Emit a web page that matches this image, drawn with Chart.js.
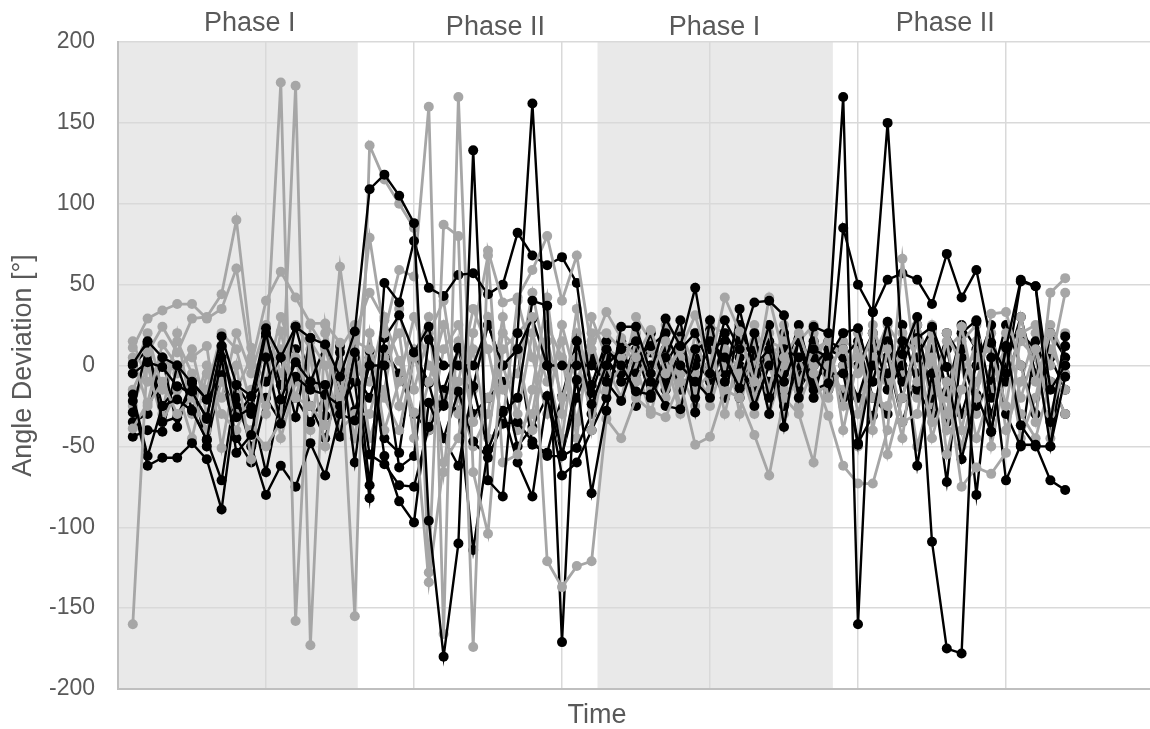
<!DOCTYPE html>
<html>
<head>
<meta charset="utf-8">
<script src="https://cdn.jsdelivr.net/npm/chart.js@4.4.1/dist/chart.umd.min.js"></script>
<style>
  html, body { margin: 0; padding: 0; background: #fff; }
</style>
</head>
<body>
<canvas id="chart" width="1150" height="729"></canvas>
<script>
// Angle deviation per time step (1..64).
// Steps 1-16 Phase I, 17-32 Phase II, 33-48 Phase I, 49-64 Phase II.

const black1 = [
  1, 15, 5, 0, -11, -21, 18, -12, -19, 23, 5, 24, 17, 13, -7, 21,
  109, 118, 105, 88, -96, -180, -110, 133, -71, -81, 20, 162, 0, -56, -9, -79,
  -28, 24, 24, -5, 29, 12, 48, -5, 28, 10, 39, 40, 31, -20, 24, 20,
  166, -160, 33, 150, 7, 30, -109, -175, -178, 27, -41, 11, 53, 49, -35, 18,
];
const black2 = [
  -5, 2, -1, -13, -16, -33, 12, -32, -26, 20, -21, 2, -10, -12, -44, 8,
  -74, 51, 39, 77, 48, 43, 56, 57, 44, 50, 82, 68, 62, 67, 51, -17,
  10, 0, -16, -18, 5, 28, -29, 28, -10, 35, -5, 25, -38, 17, -15, -11,
  85, 50, 33, 53, 57, 53, 38, 69, 42, 59, 14, -5, 52, 49, -15, 0,
];
const black3 = [
  -18, -56, -25, -21, -28, -46, 5, -54, -43, 5, -36, -7, -15, -18, -25, -10,
  -82, 17, 31, 8, 24, -25, 11, -13, -52, -29, -20, 40, 37, -171, 15, -24,
  0, 10, 15, -10, -25, -27, 10, 15, 5, -14, 20, -20, 10, 5, 10, 5,
  20, 23, -10, 27, -20, 17, 24, -1, -58, -18, -41, 12, -37, -50, -50, -7,
];
const black4 = [
  -22, -62, -57, -57, -48, -58, -89, -20, -50, -80, -62, -75, -48, -68, -30, -34,
  0, 0, -63, -56, 16, 0, 0, 0, 25, 0, 10, 29, 0, 0, 0, 0,
  -10, -22, 5, 12, 20, 0, -10, -20, 20, 5, -25, 0, -10, 15, -20, 15,
  10, -49, 0, -5, 15, -62, -5, -72, 10, -80, 5, -71, -49, -49, -71, -77,
];
const black5 = [
  -29, 14, -35, -32, -10, -21, -6, -31, -19, -10, 5, -32, 17, -31, 12, -60,
  9, -56, -84, -97, -23, -45, -16, -47, -57, -36, -35, -47, -56, -56, -51, -30,
  5, -10, -5, 20, -15, 10, 20, 0, -20, 25, 0, 10, -25, 0, 5, -5,
  -5, -48, -31, 15, -10, 5, 23, -16, 20, 28, -20, -10, 20, 10, -50, 12,
];
const black6 = [
  -44, -40, -41, 0, -27, -46, -71, -12, -26, -66, -21, 24, -10, 12, -20, 5,
  -55, -61, -74, -75, -38, -24, -28, -114, -52, -28, -60, -81, -19, -68, -60, -40,
  -20, 15, -25, 0, 10, -15, 0, 10, 15, -20, 10, -30, 20, -15, 0, 10,
  5, 15, -20, -30, 25, -15, -30, 10, -30, 0, 25, -30, -50, 15, -10, -30,
];
const black7 = [
  0, 10, -25, -13, -17, -32, 12, -25, -30, 18, -12, -20, -35, -18, 8, -28,
  5, -45, -54, 8, -11, -45, -62, -13, 25, 0, 10, -49, -54, -19, 15, -12,
  15, -5, 10, -20, 0, 18, -20, 22, -5, 0, -15, 15, -5, 25, -10, 0,
  -20, 0, 20, -15, 0, 25, -20, 20, 5, -25, -10, 25, 0, -30, 20, 5,
];
const black8 = [
  -35, -30, 5, -38, -10, -50, -5, -45, -60, -20, -35, 10, -25, -45, -10, -5,
  -20, 10, -5, -30, -40, -15, 10, -30, -20, -10, -50, -38, -19, -55, -20, 5,
  -5, 5, 0, 8, -10, -5, 5, -10, 0, 15, 5, -10, 0, -5, 15, -15,
  0, -20, 10, 5, -35, -5, 10, -35, 25, 10, -30, 0, 30, -5, 5, -15,
];

const gray1 = [
  11, 29, 34, 38, 38, 29, 35, 60, 0, 40, 58, 42, 26, 26, 14, -155,
  136, 115, 100, 85, -128, 87, 80, -174, 71, 39, 42, 59, 80, 40, 68, 10,
  33, 17, 5, 22, -5, 10, 31, 0, 42, 21, -10, 42, 5, 20, -5, -31,
  -62, -73, -73, -40, 66, -10, 5, -30, 24, -20, 32, 33, 0, -35, 45, 54,
];
const gray2 = [
  -160, 8, 24, 8, 29, 30, 44, 90, 11, -30, 21, -20, -25, -37, 61, -5,
  79, 20, 59, 55, 160, -166, 166, -66, -104, 10, 20, 30, -121, -137, -124, -121,
  -33, -45, -20, -28, -32, -10, -49, -44, -15, -20, -43, -68, -20, -30, -60, 0,
  10, -5, 20, -55, -20, 15, -45, -10, -75, -63, -67, -54, 20, 25, 0, 45,
];
const gray3 = [
  -39, -23, 13, 0, 5, 12, -51, 0, -58, 5, 175, -158, 25, 10, -20, 20,
  45, 28, 3, -29, -134, -60, -45, 20, 68, -60, -55, -15, 42, -30, 35, -40,
  10, 5, 20, -5, 15, -25, 10, 20, -30, 10, 15, -15, 25, -10, 10, 15,
  -25, 20, -40, 10, -35, -30, 20, -55, -15, 15, -40, 20, -20, 10, -30, 0,
];
const gray4 = [
  5, -25, -10, -30, -20, -40, -10, -30, -40, -50, -35, 173, -173, 25, -30, 15,
  10, -20, -40, 5, 30, -66, 15, -35, -20, 0, -30, 20, -10, 15, -35, 15,
  -15, 0, -10, 10, -20, 5, -15, -5, 10, -10, 0, 20, -15, 5, -20, -10,
  20, -30, 5, 25, 10, -50, -15, 15, -40, 5, 10, -25, 30, -10, 20, -15,
];
const gray5 = [
  -25, 0, -35, -15, -45, -5, -30, -40, -15, -25, 10, -20, 15, 0, -40, -30,
  -30, 5, 20, -45, -10, 25, -30, 10, -45, 20, 10, -40, 15, -20, 5, -30,
  0, -20, 15, -15, 5, -30, 20, -15, 0, 25, -20, 5, 15, -25, 0, 20,
  -40, 5, -20, -25, 20, 5, -35, 20, 0, -45, -15, 5, -30, -45, -10, -30,
];
const gray6 = [
  -5, 20, -15, 15, -5, -15, 20, 10, -25, 15, -45, -10, 5, -50, 0, -45,
  20, -40, -10, 30, 0, -20, -10, 35, 10, -35, 40, 5, -30, 25, -10, 20,
  20, 10, -25, 0, 25, 15, -5, 10, -20, -5, 10, -30, 0, 15, 25, -20,
  0, -50, 25, -5, -45, 25, 0, -40, 15, 25, -50, -5, 15, 5, -45, 20,
];
const gray7 = [
  15, -10, 5, -5, 10, -30, 0, -15, 5, -10, 30, 5, -40, 20, -15, 0,
  -10, 30, -25, 10, -40, 10, 25, -15, 30, -15, -5, 45, 0, -45, 20, -10,
  -20, 15, 0, -30, 10, -5, -25, 25, 20, -30, 25, 0, -30, 0, -10, 5,
  15, 10, -10, 20, -5, -20, 25, -20, -50, -10, 20, -40, -10, 20, 10, -5,
];
const gray8 = [
  -15, 5, -30, 20, -30, 0, -20, 20, -5, 25, -5, 25, 10, -25, 10, 25,
  -45, -15, 35, -15, 20, 40, -20, -50, -30, 30, -40, -30, 25, 5, -45, 30,
  5, -10, 30, 15, -15, 20, 0, -25, 5, 0, -30, 15, 10, -15, 20, -5,
  -15, -20, 0, -10, 5, 20, -25, 10, 20, -30, -5, 10, -45, -20, 25, 5,
];

const phaseNames = ['Phase I', 'Phase II', 'Phase I', 'Phase II'];
const yTicks = [-200, -150, -100, -50, 0, 50, 100, 150, 200];

// ── Layout (time units on x, pixels for text) ─────────
const SHADED = [[0, 16.2], [32.4, 48.3]];
const PHASE_LABEL_X = [8.9, 25.5, 40.3, 55.9];
const PHASE_LABEL_Y = [31, 35, 35, 31];

const FONT = "'Liberation Sans', Arial, sans-serif";
const TEXT = '#595959';
const BLACK = '#000000';
const GRAY = '#a6a6a6';

function toPoints(values) {
  return values.map((v, i) => ({ x: i + 1, y: v }));
}

function makeSet(values, color, width) {
  return {
    data: toPoints(values),
    borderColor: color,
    backgroundColor: color,
    pointBackgroundColor: color,
    borderWidth: width,
    pointRadius: 5,
    pointBorderWidth: 0,
    pointHoverRadius: 5,
    tension: 0,
  };
}

const blacks = [black1, black2, black3, black4, black5, black6, black7, black8];
const grays = [gray1, gray2, gray3, gray4, gray5, gray6, gray7, gray8];
const datasets = [];
blacks.forEach((b, i) => {
  datasets.push(makeSet(b, BLACK, 2.4));
  datasets.push(makeSet(grays[i], GRAY, 2.8));
});

const phasePlugin = {
  id: 'phases',
  beforeDraw(chart) {
    const { ctx, chartArea: a, scales: { x } } = chart;
    ctx.save();
    ctx.fillStyle = '#e9e9e9';
    SHADED.forEach(([from, to]) => {
      const x0 = x.getPixelForValue(from);
      const x1 = x.getPixelForValue(to);
      ctx.fillRect(x0, a.top, x1 - x0, a.bottom - a.top);
    });
    ctx.restore();
  },
  afterDraw(chart) {
    const { ctx, chartArea: a, scales: { x } } = chart;
    ctx.save();
    ctx.fillStyle = TEXT;
    ctx.font = '27px ' + FONT;
    ctx.textAlign = 'center';
    ctx.textBaseline = 'alphabetic';
    phaseNames.forEach((name, i) => {
      ctx.fillText(name, x.getPixelForValue(PHASE_LABEL_X[i]), PHASE_LABEL_Y[i]);
    });
    ctx.textBaseline = 'middle';
    ctx.fillText('Time', 597, 716);
    ctx.translate(24, (a.top + a.bottom) / 2);
    ctx.rotate(-Math.PI / 2);
    ctx.fillText('Angle Deviation [°]', 0, 0);
    ctx.restore();
  },
};

new Chart(document.getElementById('chart'), {
  type: 'line',
  data: { datasets },
  plugins: [phasePlugin],
  options: {
    responsive: false,
    animation: false,
    events: [],
    layout: { autoPadding: false, padding: { top: 42, right: 0, bottom: 0, left: 0 } },
    plugins: { legend: { display: false }, tooltip: { enabled: false } },
    scales: {
      x: {
        type: 'linear',
        min: 0,
        max: 69.73,
        afterFit: (s) => { s.height = 40; },
        ticks: { display: false, stepSize: 10 },
        grid: {
          color: (c) => (c.tick && c.tick.value % 10 === 0 ? '#d9d9d9' : 'rgba(0,0,0,0)'),
          lineWidth: 1.5,
          drawTicks: false,
        },
        border: { color: '#bfbfbf', width: 2 },
      },
      y: {
        min: yTicks[0],
        max: yTicks[yTicks.length - 1],
        afterFit: (s) => { s.width = 118; },
        afterBuildTicks: (s) => { s.ticks = yTicks.map((v) => ({ value: v })); },
        ticks: { color: TEXT, font: { family: FONT, size: 23 }, padding: 23 },
        grid: { color: '#d9d9d9', lineWidth: 1.5, drawTicks: false },
        border: { color: '#bfbfbf', width: 2 },
      },
    },
  },
});
</script>
</body>
</html>
